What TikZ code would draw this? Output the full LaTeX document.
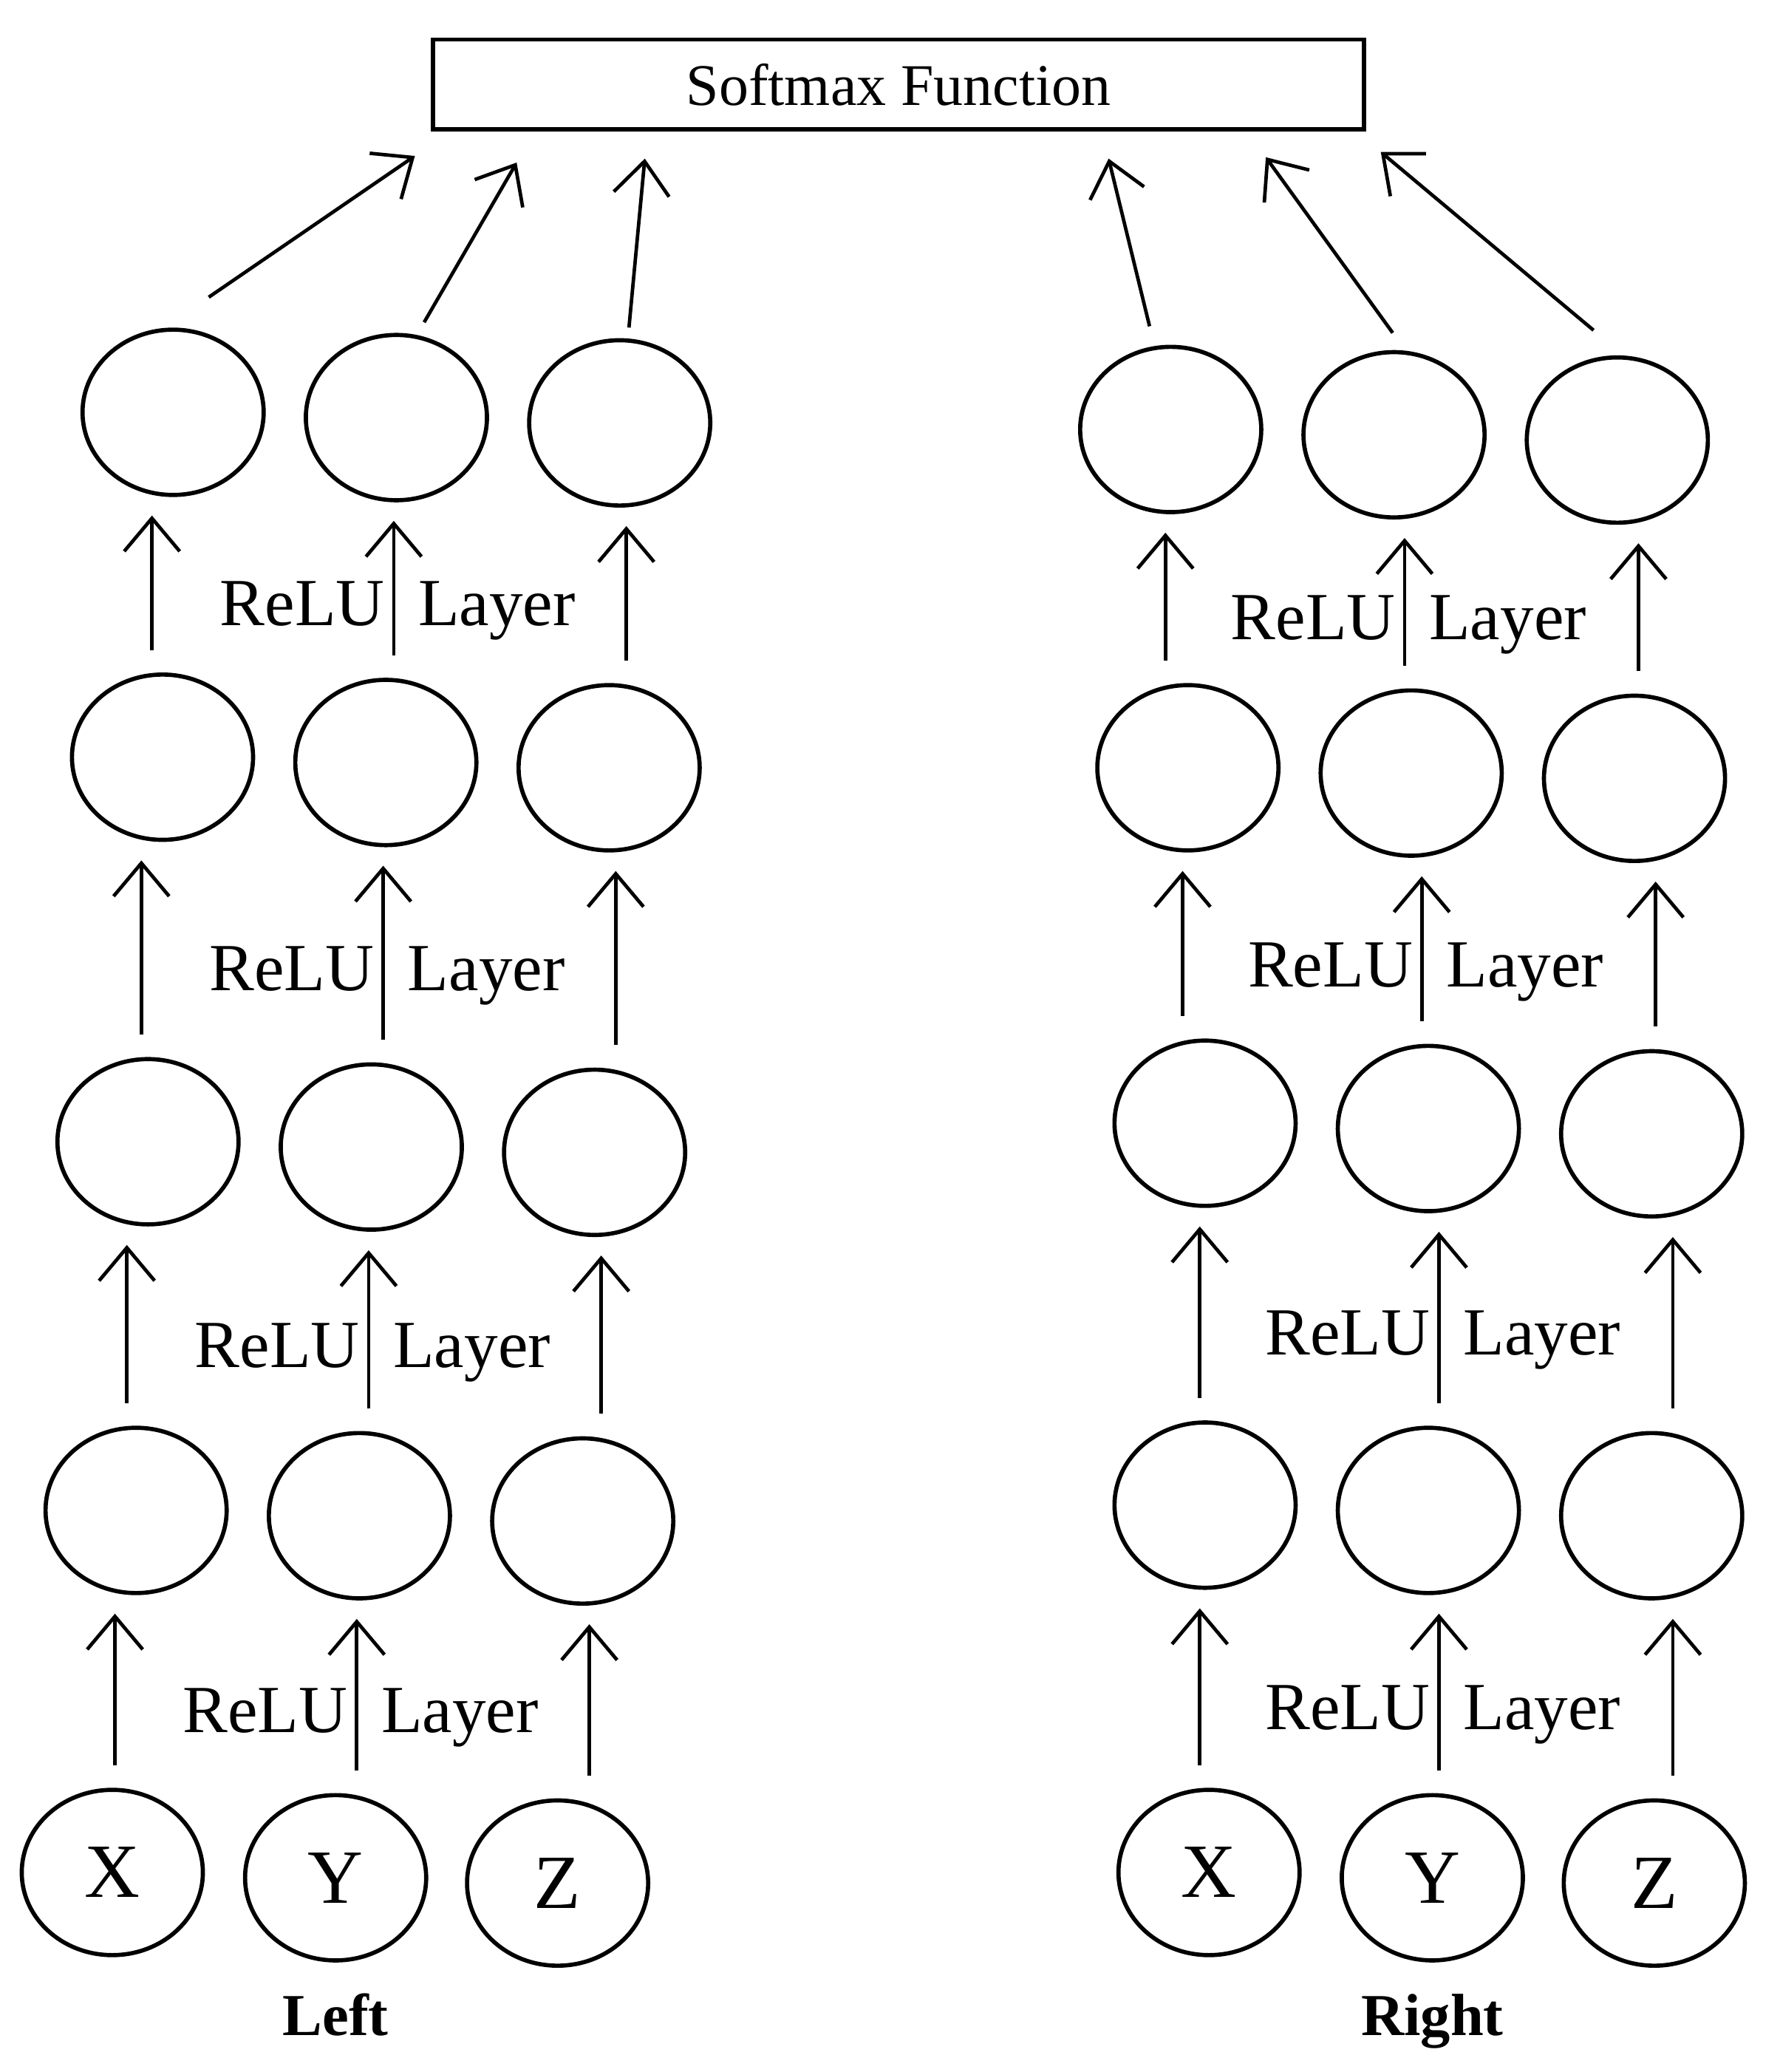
\documentclass[tikz,border=0pt]{standalone}
\usepackage{fontspec}
\setmainfont{Liberation Serif}
\usetikzlibrary{shapes.geometric, arrows.meta, positioning, calc}

\begin{document}
\begin{tikzpicture}[
        x=0.01cm, y=-0.01cm,
        neuron/.style={ellipse, draw, line width=0.9pt, minimum width=1.37cm, minimum height=1.25cm, inner sep=0pt, font=\fontsize{16.5}{18}\selectfont},
        softbox/.style={rectangle, draw, line width=0.9pt, minimum width=7.04cm, minimum height=0.68cm, font=\fontsize{12.7}{15}\selectfont},
        layer/.style={anchor=base, xshift=0.03cm, yshift=-0.27cm, font=\fontsize{14.5}{17}\selectfont},
        side/.style={inner sep=0pt, font=\fontsize{12.8}{15}\selectfont\bfseries},
        line/.style={draw, line width=0.75pt, -{Straight Barb[length=0.25cm, width=0.42cm]}},
        feed/.style={line, shorten <=0.17cm, shorten >=0.14cm}
    ]
    \useasboundingbox (0,0) rectangle (1347,1568);

    % Output
    \node [softbox] (soft) at (680,64) {Softmax Function};

    % Hidden neurons (first centre of each row, the row leans down to the right)
    \foreach \side/\row/\cx/\cy in {L/1/131/312, L/2/123/573, L/3/112/864, L/4/103/1143,
                                   R/1/886/325, R/2/899/581, R/3/912/850, R/4/912/1139} {
        \node [neuron] (\side\row1) at (\cx,\cy) {};
        \node [neuron] (\side\row2) at (\cx+169,\cy+4) {};
        \node [neuron] (\side\row3) at (\cx+338,\cy+8) {};
    }

    % Inputs
    \foreach \side/\cx in {L/85, R/915} {
        \node [neuron] (\side51) at (\cx,1417) {X};
        \node [neuron] (\side52) at (\cx+169,1421) {Y};
        \node [neuron] (\side53) at (\cx+337,1425) {Z};
    }

    \node [side, below=0.23cm of L52] (left) {Left};
    \node [side, below=0.23cm of R52] (right) {Right};

    % ReLU layers
    \foreach \side/\da/\db/\dc in {L/-16/-2/5, R/-4/8/16} {
        \foreach \lo/\hi in {5/4, 4/3, 3/2, 2/1} {
            \foreach \col/\dx in {1/\da, 2/\db, 3/\dc}
                \draw [feed] ($(\side\hi\col.south |- \side\lo\col.north)+(\dx,0)$) -- ($(\side\hi\col.south)+(\dx,0)$);
            \path ($(\side\hi2.south |- \side\lo2.north)+(\db,0)$) -- node [layer] {ReLU\enspace Layer} ($(\side\hi2.south)+(\db,0)$);
        }
    }

    % Into the softmax
    \foreach \n/\tx/\ty in {L1/314/118, L2/391/123, L3/488/120, R1/839/120, R2/958/119, R3/1045/115}
        \coordinate (in\n) at (\tx,\ty);
    \draw [line] ([shift={(27,-23)}]L11.north) -- (inL1);
    \draw [line] ([shift={(21,-8)}]L12.north) -- (inL2);
    \draw [line] ([shift={(7,-8)}]L13.north) -- (inL3);
    \draw [line] ([shift={(-16,-14)}]R11.north) -- (inR1);
    \draw [line] ([shift={(-1,-13)}]R12.north) -- (inR2);
    \draw [line] ([shift={(-18,-19)}]R13.north) -- (inR3);
\end{tikzpicture}
\end{document}
